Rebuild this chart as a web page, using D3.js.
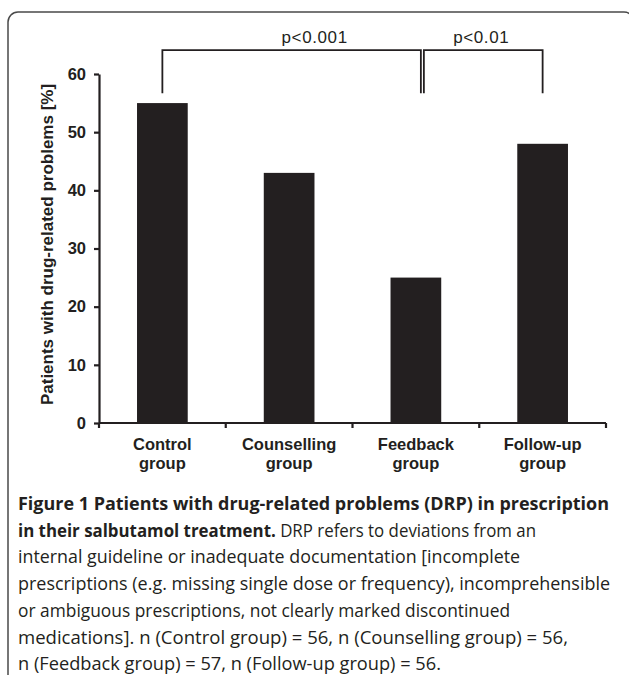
<!DOCTYPE html>
<html>
<head>
<meta charset="utf-8">
<script src="https://cdn.jsdelivr.net/npm/d3@7"></script>
<style>
  body { margin: 0; background: #fff; }
  svg { display: block; }
  .axis path, .axis line { stroke: #231f20; stroke-width: 2.2; }
  .axis text { font-family: "Liberation Sans", Arial, sans-serif; font-weight: bold; font-size: 16.5px; fill: #231f20; }
  .caption { font-family: "Open Sans", sans-serif; font-size: 18px; fill: #231f20; }
</style>
</head>
<body>
<div id="chart"></div>
<script>
var svgWidth = 629;
var svgHeight = 675;

// data
var groups = ["Control group", "Counselling group", "Feedback group", "Follow-up group"];
var percents = [55, 43, 25, 48];
var yTicks = [0, 10, 20, 30, 40, 50, 60];
var yTitle = "Patients with drug-related problems [%]";
var pLabels = ["p<0.001", "p<0.01"];

var captionBold = ["Figure 1 Patients with drug-related problems (DRP) in prescription", "in their salbutamol treatment."];
var captionLines = [
  "",
  " DRP refers to deviations from an",
  "internal guideline or inadequate documentation [incomplete",
  "prescriptions (e.g. missing single dose or frequency), incomprehensible",
  "or ambiguous prescriptions, not clearly marked discontinued",
  "medications]. n (Control group) = 56, n (Counselling group) = 56,",
  "n (Feedback group) = 57, n (Follow-up group) = 56."
];
var captionWidths = [591, 518, 502, 592, 492, 550, 423];

var margin = { top: 74, left: 99, right: 23, bottom: 252 };
var chartWidth = svgWidth - margin.left - margin.right;
var chartHeight = svgHeight - margin.top - margin.bottom;

var svg = d3.select("#chart")
  .append("svg")
  .attr("width", svgWidth)
  .attr("height", svgHeight);

// rounded frame round the figure
svg.append("rect")
  .attr("x", 8).attr("y", 12)
  .attr("width", 626).attr("height", 675)
  .attr("rx", 10).attr("ry", 10)
  .attr("fill", "none")
  .attr("stroke", "#4a4a4a")
  .attr("stroke-width", 1.5);

var chart = svg.append("g")
  .attr("transform", "translate(" + margin.left + "," + margin.top + ")");

var x = d3.scaleBand()
  .domain(groups)
  .range([0, chartWidth])
  .paddingInner(0.6)
  .paddingOuter(0.3);

var xEdges = d3.scaleBand().domain(groups).range([0, chartWidth]);

var y = d3.scaleLinear().domain([0, 60]).range([chartHeight, 0]);

var cx = function(g) { return x(g) + x.bandwidth() / 2; };

chart.selectAll(".bar")
  .data(groups)
  .enter()
  .append("rect")
  .attr("class", "bar")
  .attr("x", d => x(d))
  .attr("width", x.bandwidth())
  .attr("y", (d, i) => y(percents[i]))
  .attr("height", (d, i) => chartHeight - y(percents[i]))
  .attr("fill", "#231f20");

// y axis
var leftAxis = d3.axisLeft(y).tickValues(yTicks).tickSize(5).tickPadding(8).tickSizeOuter(0);
chart.append("g").attr("class", "axis").call(leftAxis);

// x axis: ticks at the band edges
var edgeVals = groups.map(g => xEdges(g)).concat([chartWidth]);
var xLine = chart.append("g").attr("class", "axis")
  .attr("transform", "translate(0," + chartHeight + ")");
xLine.append("path").attr("d", "M0,0H" + chartWidth).attr("fill", "none");
xLine.selectAll("line").data(edgeVals).enter().append("line")
  .attr("x1", d => d).attr("x2", d => d)
  .attr("y1", 0).attr("y2", 5);

var xLab = xLine.selectAll(".xlab").data(groups).enter().append("text")
  .attr("class", "xlab")
  .attr("text-anchor", "middle")
  .attr("transform", d => "translate(" + cx(d) + ",0)")
  .style("font-family", "'Liberation Sans', Arial, sans-serif")
  .style("font-weight", "bold")
  .style("font-size", "16.5px")
  .attr("fill", "#231f20");
xLab.append("tspan").attr("x", 0).attr("y", 27).text(d => d.split(" ")[0]);
xLab.append("tspan").attr("x", 0).attr("y", 46).text(d => d.split(" ")[1]);

// y title
chart.append("text")
  .attr("transform", "translate(" + (-46) + "," + (y(30) - 4) + ") rotate(-90)")
  .attr("text-anchor", "middle")
  .style("font-family", "'Liberation Sans', Arial, sans-serif")
  .style("font-weight", "bold")
  .style("font-size", "17px")
  .attr("fill", "#231f20")
  .text(yTitle);

// significance brackets
var bTop = y(64.1), bBot = y(56.7);
var b1 = [cx(groups[0]), cx(groups[2]) + 5];
var b2 = [cx(groups[2]) + 8, cx(groups[3])];
[b1, b2].forEach(function(b) {
  chart.append("path")
    .attr("d", "M" + b[0] + "," + bBot + "V" + bTop + "H" + b[1] + "V" + bBot)
    .attr("fill", "none")
    .attr("stroke", "#231f20")
    .attr("stroke-width", 1.8);
});
var pX = [(b1[0] + b1[1]) / 2 + 23, (b2[0] + b2[1]) / 2 - 2];
chart.selectAll(".plab").data(pLabels).enter().append("text")
  .attr("class", "plab")
  .attr("x", (d, i) => pX[i])
  .attr("y", y(65.3))
  .attr("text-anchor", "middle")
  .style("font-family", "'Liberation Sans', Arial, sans-serif")
  .style("font-size", "17px")
  .style("letter-spacing", "0.6px")
  .attr("fill", "#231f20")
  .text(d => d);

// caption
var cap = svg.append("g");
captionLines.forEach(function(line, i) {
  var t = cap.append("text")
    .attr("class", "caption")
    .attr("x", 18)
    .attr("y", 510 + i * 26.7)
    .attr("textLength", captionWidths[i])
    .attr("lengthAdjust", "spacingAndGlyphs");
  if (i < captionBold.length) {
    t.append("tspan").style("font-weight", "bold").text(captionBold[i]);
  }
  if (line) t.append("tspan").text(line);
});
</script>
</body>
</html>
